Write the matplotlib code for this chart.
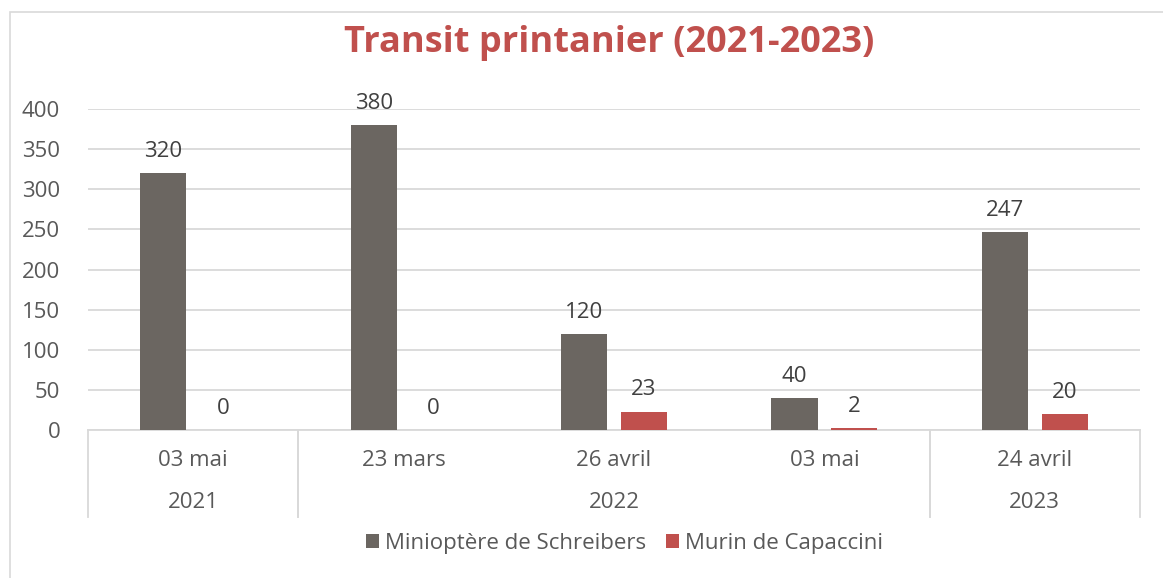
import numpy as np
import matplotlib.pyplot as plt
import matplotlib.transforms as mtransforms
from matplotlib.patches import Rectangle

plt.rcParams['font.family'] = ['Open Sans', 'DejaVu Sans']

# data
dates = ['03 mai', '23 mars', '26 avril', '03 mai', '24 avril']
years = ['2021', '2022', '2023']
year_span = [(0, 1), (1, 4), (4, 5)]   # index ranges of dates per year
minioptere = [320, 380, 120, 40, 247]
murin = [0, 0, 23, 2, 20]
series_names = ['Minioptère de Schreibers', 'Murin de Capaccini']

gray = '#6B6661'
red = '#C0504D'
txt = '#595959'
grid = '#D9D9D9'

fig = plt.figure(figsize=(11.63, 5.78), dpi=100)
fig.patches.append(Rectangle((10/1163, -0.1), 1.2, (578-12)/578 + 0.1,
                             transform=fig.transFigure, fill=False,
                             edgecolor=grid, lw=1.2))
ax = fig.add_axes([88/1163, 148/578, (1140-88)/1163, (430-109)/578])

x = np.arange(len(dates))
w = 0.22
b1 = ax.bar(x - 0.142, minioptere, w, color=gray, label=series_names[0], zorder=3)
b2 = ax.bar(x + 0.142, murin, w, color=red, label=series_names[1], zorder=3)

for bars in (b1, b2):
    for r in bars:
        h = r.get_height()
        ax.annotate(f'{int(h)}', (r.get_x() + r.get_width()/2, h),
                    xytext=(0, 8), textcoords='offset points',
                    ha='center', va='bottom', fontsize=16, color='#404040')

ax.set_xlim(-0.5, len(dates) - 0.5)
ax.set_ylim(0, 400)
ax.set_yticks(range(0, 401, 50))
ax.yaxis.grid(True, color=grid, lw=1.3, zorder=0)
ax.set_xticks([])
ax.tick_params(axis='y', length=0, labelsize=16, labelcolor=txt, pad=20)
for s in ['top', 'right', 'left']:
    ax.spines[s].set_visible(False)
ax.spines['bottom'].set_color(grid)
ax.spines['bottom'].set_linewidth(1.3)

# two-level category axis
tr = mtransforms.blended_transform_factory(ax.transData, ax.transAxes)
for i, d in enumerate(dates):
    ax.text(i, -0.095, d, transform=tr, ha='center', va='center',
            fontsize=16, color=txt)
bottom = -0.271
for (a, b), yr in zip(year_span, years):
    ax.text((a + b - 1) / 2, -0.225, yr, transform=tr, ha='center', va='center',
            fontsize=16, color=txt)
    for edge in (a, b):
        ax.plot([edge - 0.5, edge - 0.5], [0, bottom], transform=tr,
                color=grid, lw=1.3, clip_on=False)

fig.text(0.5237, 0.925, 'Transit printanier (2021-2023)', ha='center', va='center',
         fontsize=26, fontweight='bold', color=red)

ax.legend(loc='center', bbox_to_anchor=(0.51, -0.353), ncol=2, frameon=False,
          fontsize=16, labelcolor=txt, handlelength=0.6, handleheight=0.6,
          handletextpad=0.25, columnspacing=0.9)

fig.savefig('out.png', dpi=100)
